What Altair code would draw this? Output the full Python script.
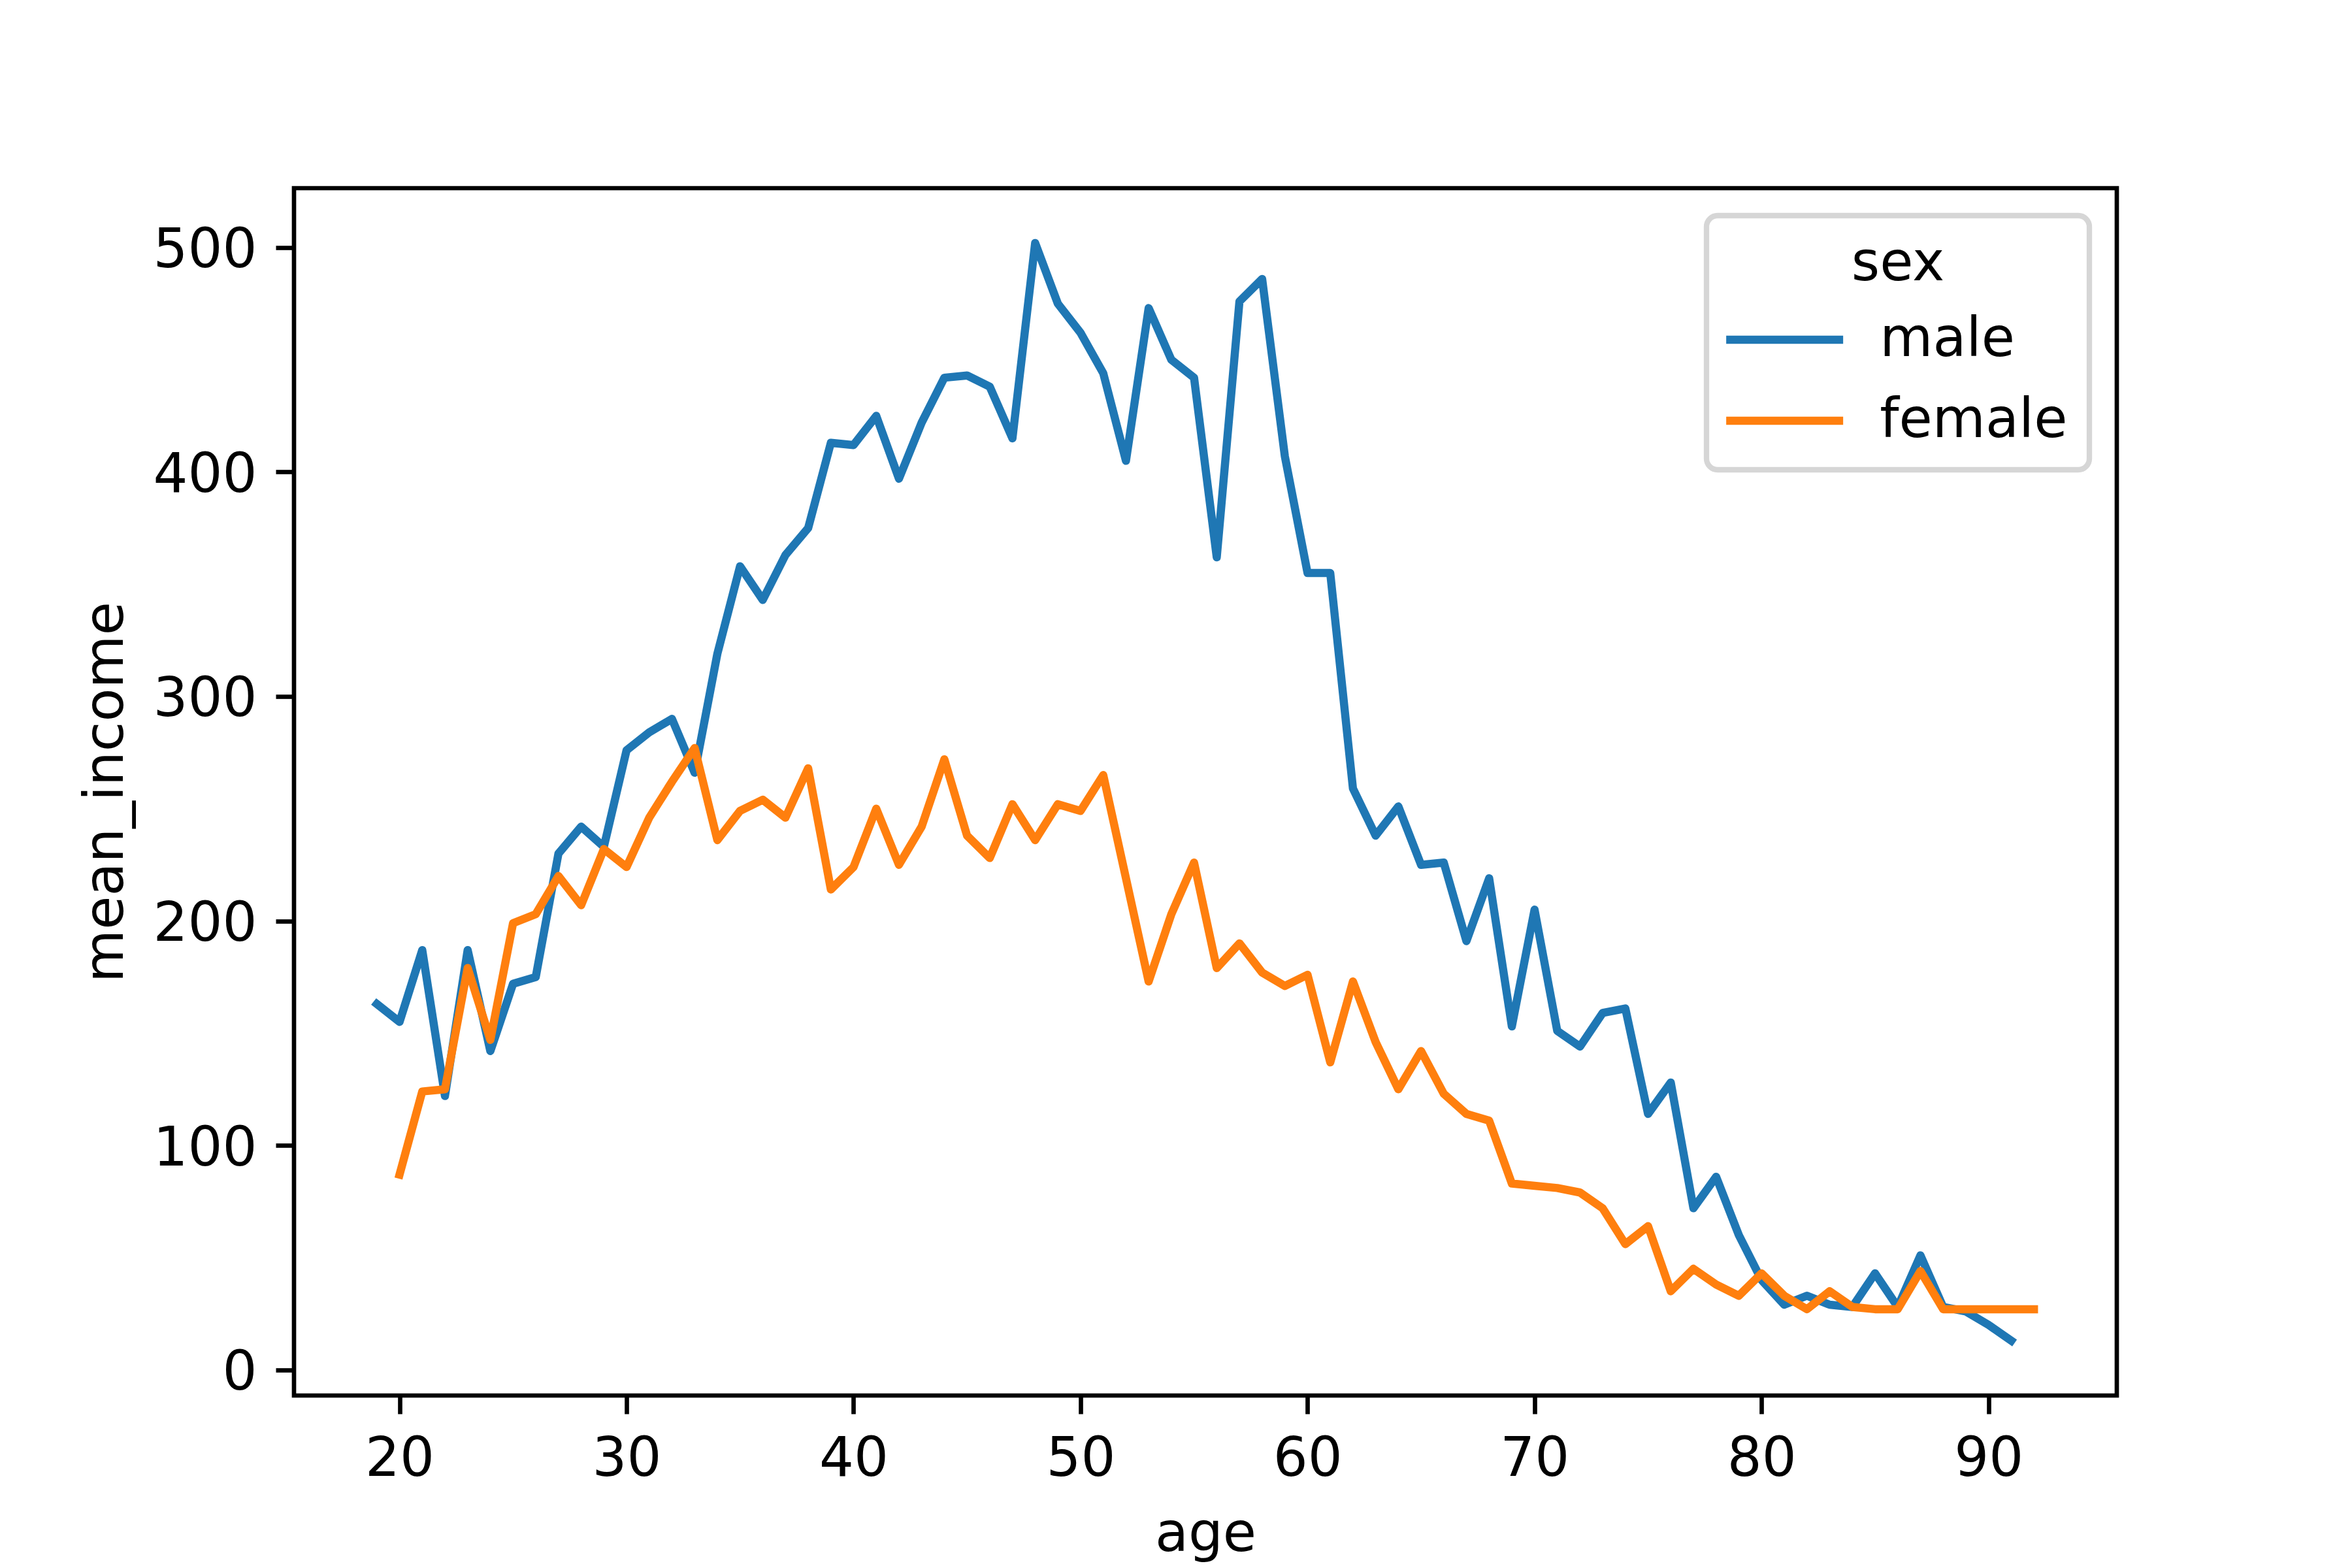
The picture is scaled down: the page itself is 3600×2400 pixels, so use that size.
import altair as alt
import pandas as pd

# ---- data ----
male_age = list(range(19, 92))
male_income = [163, 155, 187, 122, 187, 142, 172, 175, 230, 242,
               233, 276, 284, 290, 266, 319, 358, 343, 363, 375,
               413, 412, 425, 397, 422, 442, 443, 438, 415, 502,
               475, 462, 444, 405, 473, 450, 442, 362, 476, 486,
               407, 355, 355, 259, 238, 251, 225, 226, 191, 219,
               153, 205, 151, 144, 159, 161, 114, 128, 72, 86,
               60, 40, 29, 33, 29, 28, 43, 28, 51, 28,
               26, 20, 13]
female_age = list(range(20, 93))
female_income = [87, 124, 125, 179, 147, 199, 203, 220, 207, 232,
                 224, 246, 262, 277, 236, 249, 254, 246, 268, 214,
                 224, 250, 225, 242, 272, 238, 228, 252, 236, 252,
                 249, 265, 219, 173, 203, 226, 179, 190, 177, 171,
                 176, 137, 173, 146, 125, 142, 123, 114, 111, 83,
                 82, 81, 79, 72, 56, 64, 35, 45, 38, 33,
                 43, 33, 27, 35, 28, 27, 27, 44, 27, 27,
                 27, 27, 27]
sex_order = ["male", "female"]
sex_colors = ["#1f77b4", "#ff7f0e"]
x_ticks = [20, 30, 40, 50, 60, 70, 80, 90]
y_ticks = [0, 100, 200, 300, 400, 500]

df = pd.concat([
    pd.DataFrame({"age": male_age, "mean_income": male_income, "sex": "male"}),
    pd.DataFrame({"age": female_age, "mean_income": female_income, "sex": "female"}),
], ignore_index=True)

# matplotlib-like 5% margins
xmin, xmax = df["age"].min(), df["age"].max()
ymin, ymax = df["mean_income"].min(), df["mean_income"].max()
xm = 0.05 * (xmax - xmin)
ym = 0.05 * (ymax - ymin)

FS = 83.3
TICK_W = 6.67

chart = alt.Chart(df).mark_line(
    strokeWidth=12.5, strokeJoin="round", strokeCap="square"
).encode(
    x=alt.X("age:Q",
            scale=alt.Scale(domain=[xmin - xm, xmax + xm], nice=False, zero=False),
            axis=alt.Axis(values=x_ticks, title="age", grid=False, domain=False,
                          tickSize=28, tickWidth=TICK_W, tickColor="black",
                          labelPadding=28, labelFontSize=FS, labelColor="black",
                          labelFlush=False, labelFont="DejaVu Sans",
                          titleFontSize=FS, titleFontWeight="normal", titleColor="black",
                          titleFont="DejaVu Sans", titleBaseline="alphabetic",
                          titleY=237, titleX=1395)),
    y=alt.Y("mean_income:Q",
            scale=alt.Scale(domain=[ymin - ym, ymax + ym], nice=False, zero=False),
            axis=alt.Axis(values=y_ticks, title="mean_income", grid=False, domain=False,
                          tickSize=28, tickWidth=TICK_W, tickColor="black",
                          labelPadding=29, labelFontSize=FS, labelColor="black",
                          labelFont="DejaVu Sans", labelBaseline="middle", labelOffset=5,
                          labelFlush=False,
                          titleFontSize=FS, titleFontWeight="normal", titleColor="black",
                          titleFont="DejaVu Sans", titleBaseline="alphabetic",
                          titleAngle=270, titleAlign="center",
                          titleX=-263, titleY=924)),
    color=alt.Color("sex:N",
                    scale=alt.Scale(domain=sex_order, range=sex_colors),
                    sort=sex_order,
                    legend=alt.Legend(
                        orient="none", legendX=2162, legendY=42,
                        title="sex", titleFontSize=FS, titleFontWeight="normal",
                        titleColor="black", titleFont="DejaVu Sans",
                        titleAnchor="middle", titlePadding=32,
                        labelFontSize=FS, labelColor="black", labelFont="DejaVu Sans",
                        labelLimit=2000, labelOffset=104,
                        symbolType="M-3,0L3,0", symbolSize=3560,
                        symbolStrokeWidth=12.6, symbolOffset=45,
                        symbolFillColor="transparent",
                        rowPadding=40, padding=33,
                        strokeColor="#d6d6d6", fillColor="white", cornerRadius=17,
                    )),
).properties(
    width=2790,
    height=1848,
    padding={"left": 442, "top": 280, "right": 290, "bottom": 256},
    autosize=alt.AutoSizeParams(type="none"),
).configure(
    font="DejaVu Sans", background="white"
).configure_view(
    stroke="black", strokeWidth=TICK_W, fill="white"
).configure_legend(
    strokeWidth=8.3
)

chart.save("out.html", embed_options={"renderer": "svg", "actions": False})
